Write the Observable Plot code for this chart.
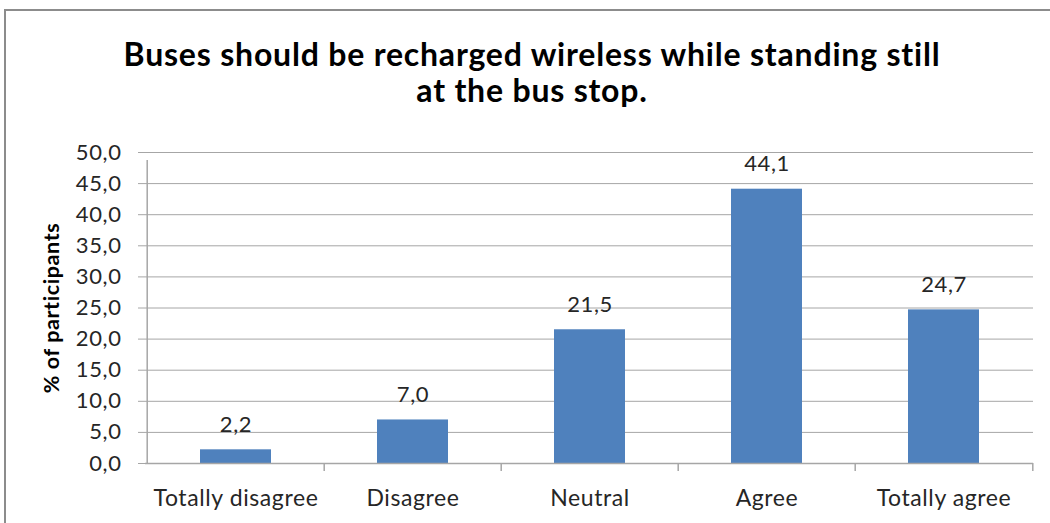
<!DOCTYPE html>
<html>
<head>
<meta charset="utf-8">
<script src="https://cdn.jsdelivr.net/npm/d3@7"></script>
<script src="https://cdn.jsdelivr.net/npm/@observablehq/plot@0.6"></script>
<style>
  body { margin: 0; background: #fff; }
  #wrap { position: relative; width: 1050px; height: 523px; overflow: hidden; font-family: Lato, "Open Sans", sans-serif; background: #fff; }
  #frame { position: absolute; left: 4px; top: 9px; width: 1100px; height: 600px; border: 2px solid #8c8c8c;
           box-sizing: border-box; z-index: 2; pointer-events: none; }
  #title { position: relative; height: 120px; box-sizing: border-box; padding: 36px 0 0 14px; text-align: center;
           font-weight: bold; font-size: 32px; line-height: 36px; letter-spacing: 0.8px; color: #000; }
  #chart { position: relative; }
  #chart svg { display: block; background: transparent; }
  #chart svg text { letter-spacing: 0.6px; }
</style>
</head>
<body>
<div id="wrap">
  <div id="frame"></div>
  <div id="title">Buses should be recharged wireless while standing still<br>at the bus stop.</div>
  <div id="chart"></div>
</div>
<script>
// Survey answers and their share of participants (%)
const categories = ["Totally disagree", "Disagree", "Neutral", "Agree", "Totally agree"];
const values = [2.2, 7.0, 21.5, 44.1, 24.7];
const yTicks = [0, 5, 10, 15, 20, 25, 30, 35, 40, 45, 50];

const data = categories.map((c, i) => ({category: c, value: values[i]}));
const fmt = d => d.toFixed(1).replace(".", ",");

const width = 1050, height = 403;
const marginLeft = 145, marginRight = 17, marginTop = 32, marginBottom = 60;
const step = (width - marginLeft - marginRight) / categories.length;
const grid = "#a6a6a6";
const ink = "#262626";

const chart = Plot.plot({
  width, height, marginLeft, marginRight, marginTop, marginBottom,
  style: {fontFamily: "Lato, 'Open Sans', sans-serif", fontSize: "22px", color: ink, background: "transparent", overflow: "visible"},
  x: {domain: categories, paddingInner: 0.6, paddingOuter: 0.3, label: null},
  y: {domain: [0, 50], label: null},
  marks: [
    Plot.gridY(yTicks, {stroke: grid, strokeOpacity: 1, strokeWidth: 1}),
    Plot.barY(data, {x: "category", y: "value", fill: "#4f81bd"}),
    // y axis line, reaching just under the baseline
    Plot.ruleX([categories[0]], {dx: -step / 2, y1: 0, y2: 50, insetBottom: -8, stroke: grid, strokeWidth: 1.5}),
    // category boundary ticks under the baseline
    Plot.ruleX(categories.slice(1), {dx: -step / 2, y1: 0, y2: 0, insetBottom: -8, stroke: grid, strokeWidth: 1.5}),
    Plot.ruleX([categories[categories.length - 1]], {dx: step / 2, y1: 0, y2: 0, insetBottom: -8, stroke: grid, strokeWidth: 1.5}),
    Plot.ruleY([0], {stroke: grid, strokeWidth: 1.5}),
    Plot.axisY({ticks: yTicks, tickFormat: fmt, tickSize: 7, tickPadding: 17, stroke: grid, strokeOpacity: 1,
                fill: ink, fontSize: 22, label: null}),
    Plot.axisX({tickSize: 0, tickPadding: 26, fill: ink, fontSize: 23, label: null}),
    Plot.text(data, {x: "category", y: "value", text: d => fmt(d.value), lineAnchor: "bottom", dy: -18,
                     fontSize: 22, fill: ink}),
    Plot.text(["% of participants"], {frameAnchor: "left", textAnchor: "middle", rotate: -90, dx: -93,
                                      fontWeight: "bold", fontSize: 21.5, fill: "#000"})
  ]
});
document.getElementById("chart").appendChild(chart);
</script>
</body>
</html>
